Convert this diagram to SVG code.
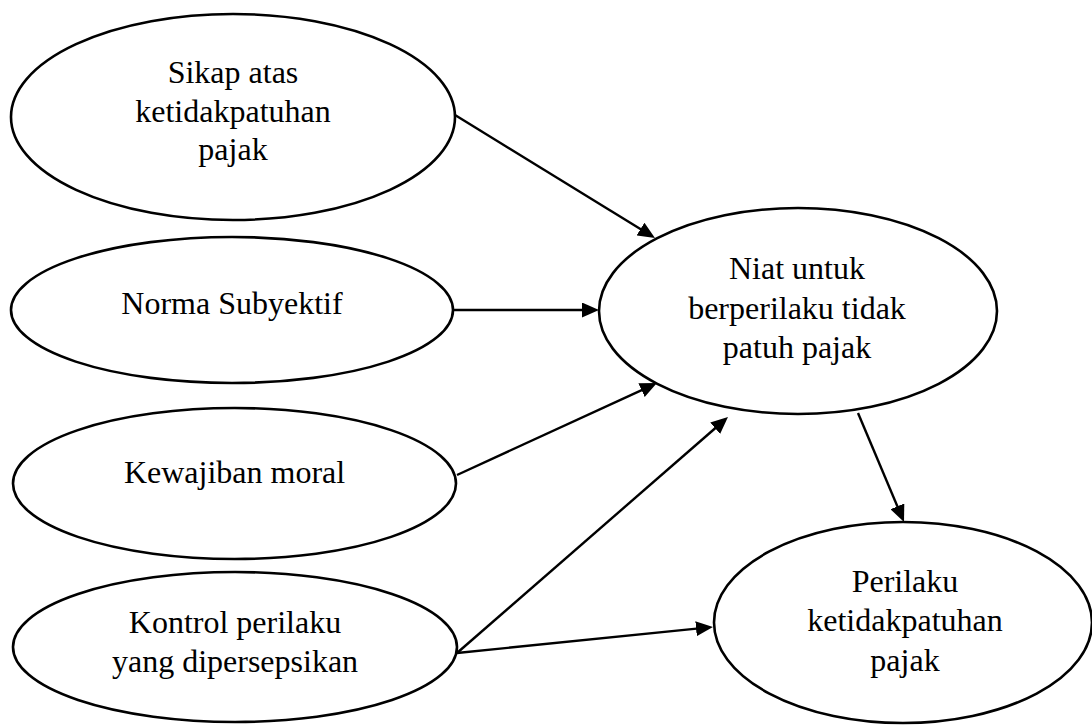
<svg xmlns="http://www.w3.org/2000/svg" width="1092" height="725" viewBox="0 0 1092 725">
  <style>
    .node ellipse { fill: #ffffff; stroke: #000000; stroke-width: 2.6; }
    .node text { font-family: "Liberation Serif", "Times New Roman", serif; font-size: 32px; fill: #000000; text-anchor: middle; }
    .edge { stroke: #000000; stroke-width: 2.4; fill: none; marker-end: url(#arrow); }
  </style>
  <defs>
    <marker id="arrow" markerUnits="userSpaceOnUse" markerWidth="17" markerHeight="15" refX="8" refY="7.5" orient="auto">
      <path d="M0,0 L17,7.5 L0,15 z" fill="#000000"/>
    </marker>
  </defs>
  <rect x="0" y="0" width="1092" height="725" fill="#ffffff"/>

  <g id="connectors">
    <line class="edge" x1="455" y1="115" x2="647.3" y2="233.3"/>
    <line class="edge" x1="453" y1="310" x2="590" y2="310"/>
    <line class="edge" x1="457" y1="475" x2="648.8" y2="386.8"/>
    <line class="edge" x1="457" y1="653" x2="721.2" y2="423"/>
    <line class="edge" x1="457" y1="653" x2="704" y2="627.9"/>
    <line class="edge" x1="858" y1="413" x2="900.5" y2="513.7"/>
  </g>

  <g id="sikap" class="node">
    <ellipse cx="233" cy="117" rx="222" ry="103"/>
    <text x="233" y="83">Sikap atas</text>
    <text x="233" y="121.5">ketidakpatuhan</text>
    <text x="233" y="160">pajak</text>
  </g>

  <g id="norma" class="node">
    <ellipse cx="232" cy="310" rx="221" ry="73"/>
    <text x="232" y="314">Norma Subyektif</text>
  </g>

  <g id="kewajiban" class="node">
    <ellipse cx="234.5" cy="483.5" rx="221.5" ry="75.5"/>
    <text x="234.5" y="483">Kewajiban moral</text>
  </g>

  <g id="kontrol" class="node">
    <ellipse cx="235" cy="647" rx="222" ry="75"/>
    <text x="235" y="633">Kontrol perilaku</text>
    <text x="235" y="672">yang dipersepsikan</text>
  </g>

  <g id="niat" class="node">
    <ellipse cx="798" cy="311" rx="199" ry="103"/>
    <text x="797" y="279">Niat untuk</text>
    <text x="797" y="318.5">berperilaku tidak</text>
    <text x="797" y="358">patuh pajak</text>
  </g>

  <g id="perilaku" class="node">
    <ellipse cx="903" cy="622.5" rx="189" ry="100.5"/>
    <text x="905" y="592">Perilaku</text>
    <text x="905" y="631">ketidakpatuhan</text>
    <text x="905" y="670.5">pajak</text>
  </g>
</svg>
